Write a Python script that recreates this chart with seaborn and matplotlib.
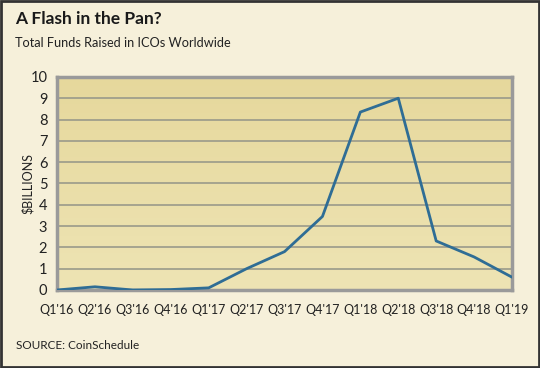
import numpy as np
import pandas as pd
import matplotlib
matplotlib.use("Agg")
import matplotlib.pyplot as plt
import seaborn as sns
from matplotlib.patches import Rectangle

quarters = ["Q1'16", "Q2'16", "Q3'16", "Q4'16", "Q1'17", "Q2'17", "Q3'17",
            "Q4'17", "Q1'18", "Q2'18", "Q3'18", "Q4'18", "Q1'19"]
funds = [0.0, 0.15, 0.0, 0.02, 0.1, 1.0, 1.8, 3.45, 8.35, 9.0, 2.3, 1.55, 0.6]
y_ticks = list(range(0, 11))

df = pd.DataFrame({"quarter": quarters, "funds": funds})
df["pos"] = np.arange(len(df))

sns.set_style("white")
plt.rcParams['font.family'] = ['Lato', 'DejaVu Sans']

bg = "#f6f0da"
fig = plt.figure(figsize=(5.4, 3.68), dpi=100, facecolor=bg)
ax = fig.add_axes([0.1056, 0.212, 0.8426, 0.579])
ax.set_facecolor("#ebdfa6")

# soft vertical gradient inside plot area
grad = np.linspace(0, 1, 100).reshape(-1, 1)
cmap = matplotlib.colors.LinearSegmentedColormap.from_list("g", ["#eee4b4", "#e6d89c"])
ax.imshow(grad, extent=[0, 1, 0, 1], transform=ax.transAxes, cmap=cmap,
          aspect="auto", origin="lower", zorder=0)

for t in y_ticks[1:]:
    ax.axhline(t, color="#9a9a8a", lw=1.2, zorder=1)

sns.lineplot(data=df, x="pos", y="funds", ax=ax, color="#2f6d95", lw=2, zorder=3)

ax.set_xlim(0, len(quarters) - 1)
ax.set_ylim(0, 10)
ax.set_xticks(df["pos"])
ax.set_xticklabels(quarters)
ax.set_yticks(y_ticks)
ax.tick_params(axis="x", length=5, width=1.5, color="#9a9a9a", pad=5,
               labelsize=9, labelcolor="#222222", direction="out")
ax.tick_params(axis="y", length=0, pad=7, labelsize=10.5, labelcolor="#222222")
ax.set_xlabel("")
ax.set_ylabel("\\$BILLIONS", fontsize=9, color="#222222")
ax.yaxis.set_label_coords(-0.05, 0.5)

for side in ["left", "top", "right", "bottom"]:
    ax.spines[side].set_color("#9a9a9a")
    ax.spines[side].set_linewidth(2.5)
    ax.spines[side].set_visible(True)

fig.text(0.028, 0.948, "A Flash in the Pan?", fontsize=12.5, fontweight="bold",
         color="#1a1a1a", va="center")
fig.text(0.028, 0.883, "Total Funds Raised in ICOs Worldwide", fontsize=9.2,
         color="#222222", va="center")
fig.text(0.03, 0.062, "SOURCE: CoinSchedule", fontsize=8.5, color="#222222", va="center")

fig.patches.append(Rectangle((0.002, 0.003), 0.996, 0.994, transform=fig.transFigure,
                             fill=False, edgecolor="#333333", lw=2))

fig.savefig("out.png", dpi=100, facecolor=bg)
